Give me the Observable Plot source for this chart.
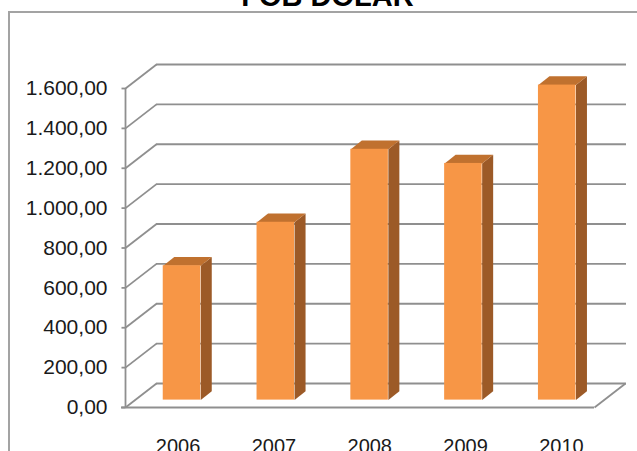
<!DOCTYPE html>
<html>
<head>
<meta charset="utf-8">
<script src="https://cdn.jsdelivr.net/npm/d3@7"></script>
<script src="https://cdn.jsdelivr.net/npm/@observablehq/plot@0.6"></script>
<style>
  html, body { margin: 0; padding: 0; background: #fff; }
  #wrap { position: relative; width: 637px; height: 451px; overflow: hidden; background: #fff; font-family: "Liberation Sans", Arial, sans-serif; }
  #frame { position: absolute; left: 8px; top: 11px; width: 700px; height: 600px; border: 2px solid #a3a3a3; }
  #title { position: absolute; left: 0; top: -18px; width: 655px; text-align: center; font: bold 29px/29px "Liberation Sans", Arial, sans-serif; color: #000; }
  #chart { position: absolute; left: 0; top: 0; }
</style>
</head>
<body>
<div id="wrap">
  <div id="frame"></div>
  <div id="title"></div>
  <div id="chart"></div>
</div>
<script>
// ---- data ----
const chartTitle = "FOB DOLAR";
const years = ["2006", "2007", "2008", "2009", "2010"];
const fobValues = [674, 892, 1258, 1187, 1580];
const yTickValues = [0, 200, 400, 600, 800, 1000, 1200, 1400, 1600];
const yTickLabels = ["0,00", "200,00", "400,00", "600,00", "800,00", "1.000,00", "1.200,00", "1.400,00", "1.600,00"];

// ---- layout ----
const W = 637, H = 451;
const margin = {left: 125, right: 43, top: 88, bottom: 44};
const xDomain = [-0.5, years.length - 0.5];
const yDomain = [0, 1600];
const xs = Plot.scale({x: {type: "linear", domain: xDomain, range: [margin.left, W - margin.right]}});
const ys = Plot.scale({y: {type: "linear", domain: yDomain, range: [H - margin.bottom, margin.top]}});
// convert a pixel offset into a data offset through the scales
const dX = px => xs.invert(xs.apply(0) + px);
const dY = py => ys.invert(ys.apply(0) + py);
const wall = {x: dX(31), y: dY(-24)};        // back wall depth
const barPlane = {x: dX(9.6), y: dY(-7.4)};   // front face of the bars
const barDepth = {x: dX(11), y: dY(-8.8)};    // bar thickness
const half = 0.2;                              // half bar width (gap width 150%)
const tickLen = dX(-4);

const gridColor = "#8f8f8f";
const frontColor = "#f79646";
const topColor = "#c0712f";
const sideColor = "#9c5a27";
const textColor = "#1a1a1a";

const bars = years.map((year, i) => ({year, i, value: fobValues[i]}));
const ticks = yTickValues.map((v, i) => ({v, label: yTickLabels[i]}));

const frontFaces = bars.map(b => ({
  x1: b.i - half + barPlane.x, x2: b.i + half + barPlane.x,
  y1: barPlane.y, y2: b.value + barPlane.y
}));
const topFaces = bars.flatMap(b => {
  const x1 = b.i - half + barPlane.x, x2 = b.i + half + barPlane.x, y = b.value + barPlane.y;
  return [
    {k: b.year, x: x1, y},
    {k: b.year, x: x2, y},
    {k: b.year, x: x2 + barDepth.x, y: y + barDepth.y},
    {k: b.year, x: x1 + barDepth.x, y: y + barDepth.y}
  ];
});
const sideFaces = bars.flatMap(b => {
  const x = b.i + half + barPlane.x, y0 = barPlane.y, y1 = b.value + barPlane.y;
  return [
    {k: b.year, x, y: y0},
    {k: b.year, x, y: y1},
    {k: b.year, x: x + barDepth.x, y: y1 + barDepth.y},
    {k: b.year, x: x + barDepth.x, y: y0 + barDepth.y}
  ];
});

document.getElementById("title").textContent = chartTitle;

const chart = Plot.plot({
  width: W,
  height: H,
  marginLeft: margin.left,
  marginRight: margin.right,
  marginTop: margin.top,
  marginBottom: margin.bottom,
  style: {background: "transparent", fontFamily: "'Liberation Sans', Arial, sans-serif", overflow: "visible"},
  x: {type: "linear", domain: xDomain, axis: null},
  y: {type: "linear", domain: yDomain, axis: null},
  marks: [
    // back wall gridlines
    Plot.ruleY(ticks, {y: d => d.v + wall.y, x1: xDomain[0] + wall.x, x2: xDomain[1] + wall.x + dX(1), stroke: gridColor, strokeWidth: 1.8}),
    // side-wall diagonals from the front axis to the back wall
    Plot.link(ticks, {x1: xDomain[0], y1: d => d.v, x2: xDomain[0] + wall.x, y2: d => d.v + wall.y, stroke: gridColor, strokeWidth: 1.8}),
    // floor: front edge and right edge
    Plot.ruleY([0], {x1: xDomain[0] + tickLen, x2: xDomain[1], stroke: gridColor, strokeWidth: 1.8}),
    Plot.link([0], {x1: xDomain[1], y1: 0, x2: xDomain[1] + wall.x, y2: wall.y, stroke: gridColor, strokeWidth: 1.8}),
    // front value axis and tick marks
    Plot.ruleX([xDomain[0]], {y1: 0, y2: yDomain[1], stroke: gridColor, strokeWidth: 1.8}),
    Plot.link(ticks, {x1: xDomain[0] + tickLen, x2: xDomain[0], y1: d => d.v, y2: d => d.v, stroke: gridColor, strokeWidth: 1.8}),
    // bars
    Plot.line(sideFaces, {x: "x", y: "y", z: "k", fill: sideColor, stroke: "none", curve: "linear-closed"}),
    Plot.line(topFaces, {x: "x", y: "y", z: "k", fill: topColor, stroke: "none", curve: "linear-closed"}),
    Plot.rect(frontFaces, {x1: "x1", x2: "x2", y1: "y1", y2: "y2", fill: frontColor}),
    // value labels
    Plot.text(ticks, {x: xDomain[0], y: "v", text: "label", textAnchor: "end", dx: -18, fontSize: 21, fill: textColor, lineAnchor: "middle"}),
    // category labels
    Plot.text(bars, {x: b => b.i * 1.022 + 0.06, y: 0, dy: 38.6, text: "year", fontSize: 20, fill: textColor, lineAnchor: "middle"})
  ]
});
document.getElementById("chart").appendChild(chart);
</script>
</body>
</html>
